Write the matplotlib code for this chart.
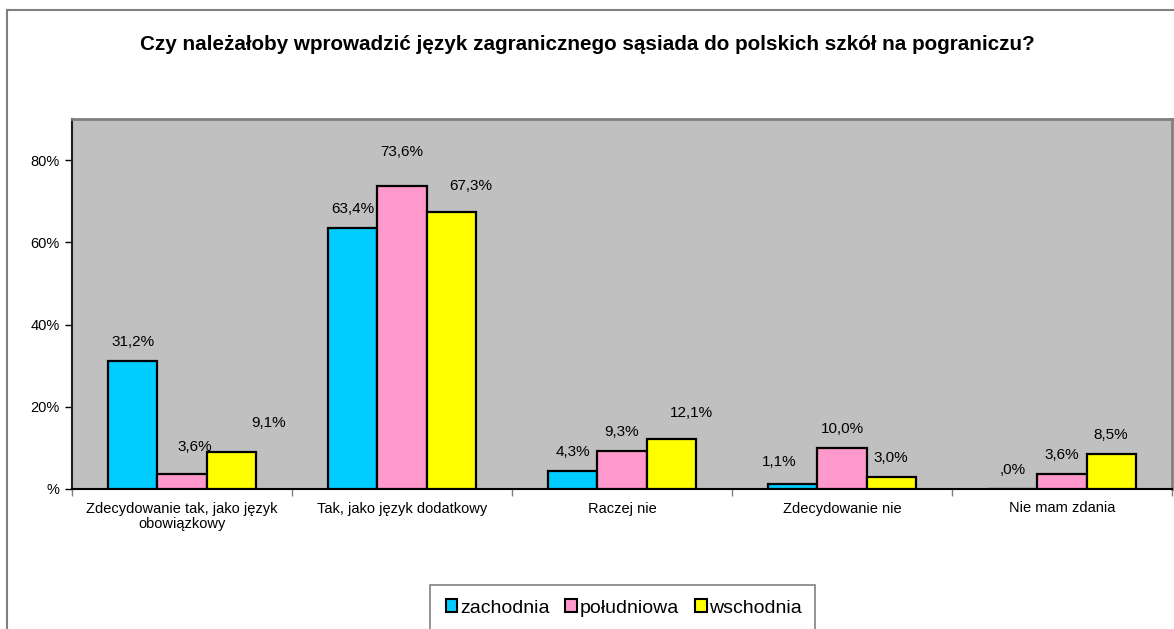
import numpy as np
import matplotlib
matplotlib.use('Agg')
import matplotlib.pyplot as plt
from matplotlib.patches import Patch, Rectangle
from matplotlib.lines import Line2D

plt.rcParams['font.family'] = ['Liberation Sans', 'DejaVu Sans']

categories = ['Zdecydowanie tak, jako język\nobowiązkowy', 'Tak, jako język dodatkowy',
              'Raczej nie', 'Zdecydowanie nie', 'Nie mam zdania']
series_names = ['zachodnia', 'południowa', 'wschodnia']
zachodnia = [31.2, 63.4, 4.3, 1.1, 0.0]
poludniowa = [3.6, 73.6, 9.3, 10.0, 3.6]
wschodnia = [9.1, 67.3, 12.1, 3.0, 8.5]
y_ticks = [0, 20, 40, 60, 80]
y_tick_labels = ['%', '20%', '40%', '60%', '80%']

colors = ['#00CCFF', '#FF99CC', '#FFFF00']
# label nudges (pixels) for labels that were moved by hand in the original
label_nudge = {(1, 0): (13, 27), (2, 0): (38, 29), (1, 1): (0, 34), (2, 1): (20, 26),
               (2, 2): (20, 26), (0, 3): (-14, 22)}

W, H = 1174, 629
fig = plt.figure(figsize=(W / 100, H / 100), dpi=100)
ax = fig.add_axes([72 / W, 1 - 489 / H, 1100 / W, 370 / H])
ax.set_facecolor('#C0C0C0')

x = np.arange(len(categories))
bw = 0.223
all_series = [zachodnia, poludniowa, wschodnia]
for i, vals in enumerate(all_series):
    pos = x + (i - 1) * bw
    ax.bar(pos, vals, width=bw, color=colors[i], edgecolor='black', linewidth=1.6,
           label=series_names[i], zorder=3)
    for j, v in enumerate(vals):
        txt = f'{v:.1f}'.replace('.', ',')
        if txt.startswith('0,'):
            txt = txt[1:]
        dx, dy = label_nudge.get((i, j), (0, 19))
        ax.annotate(txt + '%', (pos[j], v), xytext=(dx, dy), textcoords='offset pixels',
                    ha='center', va='center', fontsize=11, color='black', zorder=4)

ax.set_xlim(-0.5, len(categories) - 0.5)
ax.set_ylim(0, 90)
ax.set_yticks(y_ticks)
ax.set_yticklabels(y_tick_labels, fontsize=10.5)
ax.tick_params(axis='y', direction='out', length=5, width=1, pad=4, colors='black')

ax.set_xticks(x)
ax.set_xticklabels(categories, fontsize=10.5, linespacing=1.1)
ax.tick_params(axis='x', which='major', length=0, pad=9)
ax.set_xticks(np.arange(len(categories) + 1) - 0.5, minor=True)
ax.tick_params(axis='x', which='minor', direction='out', length=5, width=1, color='#808080')

for side in ['top', 'right']:
    ax.spines[side].set_color('#808080')
    ax.spines[side].set_linewidth(2)
ax.spines['left'].set_color('#202020')
ax.spines['left'].set_linewidth(1.5)
ax.spines['bottom'].set_color('black')
ax.spines['bottom'].set_linewidth(1.5)

fig.text(587 / W, 1 - 45 / H, 'Czy należałoby wprowadzić język zagranicznego sąsiada do polskich szkół na pograniczu?',
         ha='center', va='center', fontsize=14.9, fontweight='bold')

# outer chart border (cut at right and bottom)
fig.add_artist(Line2D([7 / W, 7 / W], [-0.05, 1 - 10 / H], transform=fig.transFigure,
                      color='#808080', lw=1.5))
fig.add_artist(Line2D([7 / W, 1.05], [1 - 10 / H, 1 - 10 / H], transform=fig.transFigure,
                      color='#808080', lw=1.5))

# legend box (cut at bottom)
fig.add_artist(Rectangle((430 / W, -0.05), 385 / W, 1 - 585 / H + 0.05, transform=fig.transFigure,
                         facecolor='white', edgecolor='#808080', lw=1.2))
handles = [Patch(facecolor=c, edgecolor='black', linewidth=1.5) for c in colors]
fig.legend(handles, series_names, loc='center', bbox_to_anchor=(624 / W, 1 - 608 / H),
           ncol=3, frameon=False, fontsize=14, handlelength=0.6, handleheight=0.6,
           handletextpad=0.15, columnspacing=0.8)

fig.savefig('out.png', dpi=100)
